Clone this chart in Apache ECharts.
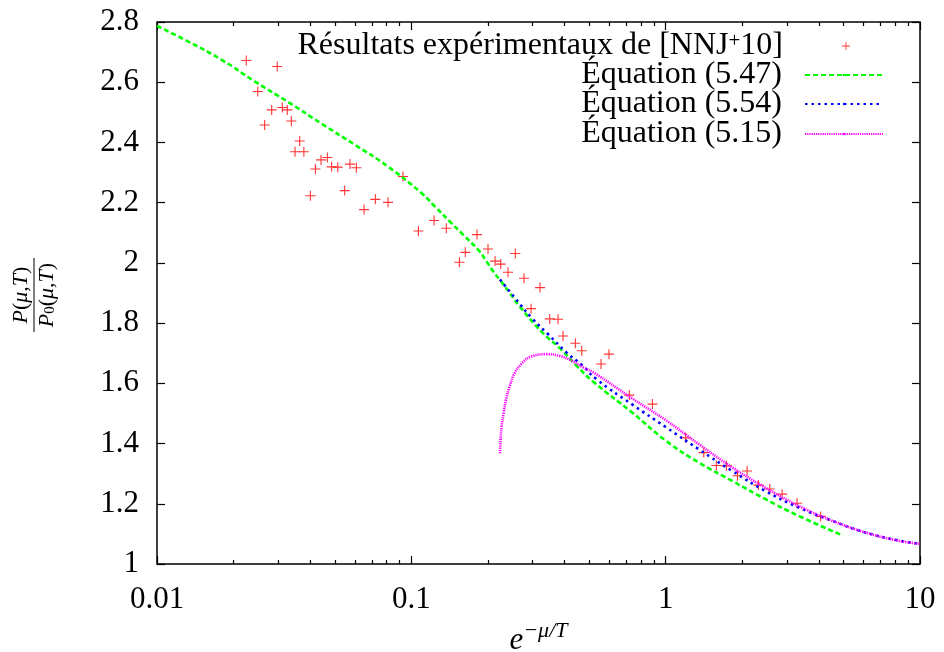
<!DOCTYPE html>
<html>
<head>
<meta charset="utf-8">
<script src="https://cdn.jsdelivr.net/npm/echarts@6/dist/echarts.min.js"></script>
<style>html,body{margin:0;padding:0;background:#fff}#c{width:944px;height:652px}</style>
</head>
<body>
<div id="c"></div>
<script>
// ---- data ----
const xTickLabels = ['0.01', '0.1', '1', '10'];
const xMinorTicks = [0.02,0.03,0.04,0.05,0.06,0.07,0.08,0.09,0.2,0.3,0.4,0.5,0.6,0.7,0.8,0.9,2,3,4,5,6,7,8,9];

const seriesNames = ['Résultats expérimentaux de [NNJ+10]', 'Équation (5.47)', 'Équation (5.54)', 'Équation (5.15)'];

const expX = [0.02244,0.0297,0.0249,0.02825,0.0265,0.0311,0.03253,0.03374,0.0364,0.0349,0.0378,0.0401,0.04195,0.04415,0.04675,0.0486,0.05135,0.0574,0.0608,0.0547,0.0652,0.0722,0.0810,0.0927,0.1066,0.1228,0.1373,0.1812,0.163,0.1545,0.2002,0.2134,0.2246,0.2564,0.2399,0.2774,0.3206,0.2956,0.3500,0.3775,0.395,0.4415,0.4677,0.5986,0.557,0.7195,0.887,1.198,1.412,1.582,1.733,1.915,2.09,2.315,2.565,2.87,3.287,4.07];
const expY = [2.672,2.652,2.569,2.508,2.458,2.516,2.508,2.471,2.405,2.369,2.369,2.223,2.312,2.342,2.350,2.319,2.318,2.328,2.316,2.240,2.177,2.211,2.201,2.287,2.106,2.141,2.115,2.094,2.035,2.002,2.046,2.006,1.996,2.031,1.969,1.949,1.918,1.848,1.814,1.813,1.757,1.733,1.708,1.697,1.664,1.561,1.531,1.419,1.370,1.327,1.326,1.293,1.309,1.262,1.249,1.232,1.202,1.158];

const eq547X = [0.01,0.01328,0.01797,0.02428,0.03283,0.04442,0.06003,0.0812,0.1099,0.1239,0.1419,0.1601,0.1834,0.1979,0.2101,0.2232,0.2443,0.2675,0.3255,0.3842,0.4468,0.5194,0.738,1.0,1.35,1.826,2.46,3.33,4.99];
const eq547Y = [2.787,2.735,2.674,2.602,2.534,2.462,2.392,2.319,2.231,2.187,2.137,2.093,2.043,2.004,1.971,1.943,1.899,1.854,1.771,1.716,1.658,1.605,1.503,1.410,1.337,1.276,1.216,1.160,1.094];

const eq554X = [0.2232,0.2575,0.2996,0.3443,0.408,0.4677,0.5355,0.738,1.0,1.35,1.826,2.46,3.33,4.5,6.09,8.25,10];
const eq554Y = [1.945,1.880,1.814,1.764,1.702,1.661,1.613,1.530,1.455,1.381,1.309,1.243,1.188,1.144,1.105,1.078,1.067];

const eq515X = [0.2232,0.2243,0.2264,0.2305,0.2354,0.2434,0.2545,0.2718,0.2935,0.3406,0.3842,0.427,0.4746,0.5275,0.738,1.0,1.35,1.826,2.46,3.33,4.5,6.09,8.25,10];
const eq515Y = [1.368,1.412,1.456,1.500,1.545,1.589,1.633,1.666,1.688,1.697,1.691,1.675,1.653,1.633,1.550,1.478,1.398,1.321,1.254,1.193,1.144,1.105,1.077,1.067];

// ---- build ----
const zip = (a, b) => a.map((v, i) => [v, b[i]]);
const FONT = 'Liberation Serif';
const plusPath = 'path://M0,4.45H10V5.55H0Z M4.45,0H5.55V10H4.45Z';

const baseX = {type: 'log', logBase: 10, min: 0.01, max: 10, gridIndex: 0, splitLine: {show: false}, axisLine: {show: false}};
const baseY = {type: 'value', min: 1, max: 2.8, interval: 0.2, splitLine: {show: false}, axisLine: {show: false}};

const tickRich = {t: {fontFamily: FONT, fontSize: 31, color: '#000'}};
const legRich = {
  n: {fontFamily: FONT, fontSize: 32, lineHeight: 30, color: '#000'},
  sup: {fontFamily: FONT, fontSize: 21, lineHeight: 30, verticalAlign: 'top', padding: [0, 0, 13, 0], color: '#000'}
};
function legFmt(name) {
  if (name.indexOf('NNJ+10') >= 0) return '{n|Résultats expérimentaux de [NNJ}{sup|+}{n|10]}';
  return '{n|' + name + '}';
}
function mkLegend(name, top, right, w, h, pad, icon) {
  const d = {name: name};
  if (icon) d.icon = icon;
  return {
    show: true, orient: 'horizontal', align: 'right', right: right, top: top,
    itemWidth: w, itemHeight: h, selectedMode: false, padding: 0,
    formatter: legFmt,
    textStyle: {fontFamily: FONT, fontSize: 32, color: '#000', padding: [0, pad, 0, 0], rich: legRich},
    data: [d]
  };
}

const chart = echarts.init(document.getElementById('c'), null, {renderer: 'canvas'});
chart.setOption({
  animation: false,
  backgroundColor: '#fff',
  textStyle: {fontFamily: FONT},
  grid: {left: 157, right: 24, top: 22, bottom: 88, containLabel: false, outerBoundsMode: 'none',
    show: true, borderColor: '#000', borderWidth: 1.5, backgroundColor: 'transparent'},
  legend: [
    mkLegend(seriesNames[0], 30, 94, 8, 8, 54, plusPath),
    mkLegend(seriesNames[1], 59, 60, 78, 3, 18),
    mkLegend(seriesNames[2], 88, 60, 78, 3, 18),
    mkLegend(seriesNames[3], 118, 60, 78, 3, 18)
  ],
  xAxis: [
    Object.assign({}, baseX, {
      position: 'bottom',
      axisTick: {show: true, inside: true, length: 8, lineStyle: {color: '#000', width: 1.2}},
      axisLabel: {show: true, margin: 20, fontFamily: FONT, fontSize: 31, color: '#000', rich: tickRich,
        formatter: v => '{t|' + xTickLabels[Math.round(Math.log10(v)) + 2] + '}'},
      name: '{e|e}{s|−μ/T}', nameLocation: 'middle', nameGap: 50,
      nameTextStyle: {rich: {
        e: {fontFamily: FONT, fontStyle: 'italic', fontSize: 31, color: '#000', lineHeight: 36, verticalAlign: 'bottom'},
        s: {fontFamily: FONT, fontStyle: 'italic', fontSize: 22, color: '#000', lineHeight: 36, verticalAlign: 'top', padding: [0, 0, 14, 0]}
      }}
    }),
    Object.assign({}, baseX, {
      position: 'bottom',
      axisTick: {show: true, inside: true, length: 4, customValues: xMinorTicks, lineStyle: {color: '#000', width: 1.2}},
      axisLabel: {show: false}
    }),
    Object.assign({}, baseX, {
      position: 'top',
      axisTick: {show: true, inside: true, length: 8, lineStyle: {color: '#000', width: 1.2}},
      axisLabel: {show: false}
    }),
    Object.assign({}, baseX, {
      position: 'top',
      axisTick: {show: true, inside: true, length: 4, customValues: xMinorTicks, lineStyle: {color: '#000', width: 1.2}},
      axisLabel: {show: false}
    })
  ],
  yAxis: [
    Object.assign({}, baseY, {
      position: 'left',
      axisTick: {show: true, inside: true, length: 8, lineStyle: {color: '#000', width: 1.2}},
      axisLabel: {show: true, margin: 18, fontFamily: FONT, fontSize: 31, color: '#000', rich: tickRich,
        formatter: v => '{t|' + String(+v.toFixed(1)) + '}'}
    }),
    Object.assign({}, baseY, {
      position: 'right',
      axisTick: {show: true, inside: true, length: 8, lineStyle: {color: '#000', width: 1.2}},
      axisLabel: {show: false}
    })
  ],
  graphic: [{
    type: 'group', x: 34, y: 295, rotation: Math.PI / 2,
    children: [
      {type: 'text', x: 0, y: -13, style: {text: '{i|P}{n|(}{i|μ}{n|,}{i|T}{n|)}', align: 'center', verticalAlign: 'middle',
        rich: {i: {fontFamily: FONT, fontStyle: 'italic', fontSize: 22, fill: '#000'}, n: {fontFamily: FONT, fontSize: 22, fill: '#000'}}}},
      {type: 'line', shape: {x1: -37, y1: 0, x2: 37, y2: 0}, style: {stroke: '#000', lineWidth: 1}},
      {type: 'text', x: 0, y: 13, style: {text: '{i|P}{s|0}{n|(}{i|μ}{n|,}{i|T}{n|)}', align: 'center', verticalAlign: 'middle',
        rich: {i: {fontFamily: FONT, fontStyle: 'italic', fontSize: 22, fill: '#000'}, n: {fontFamily: FONT, fontSize: 22, fill: '#000'},
               s: {fontFamily: FONT, fontSize: 15, fill: '#000', verticalAlign: 'bottom', padding: [6, 0, 0, 0]}}}}
    ]
  }],
  series: [
    {name: seriesNames[0], type: 'scatter', xAxisIndex: 0, yAxisIndex: 0, data: zip(expX, expY),
      symbol: plusPath, symbolSize: 10, itemStyle: {color: '#ff0000'}, z: 2},
    {name: seriesNames[1], type: 'line', xAxisIndex: 0, yAxisIndex: 0, data: zip(eq547X, eq547Y), symbol: 'none', smooth: 0.5,
      lineStyle: {color: '#00ff00', width: 2.6, type: [5, 3]}, itemStyle: {color: '#00ff00'}, z: 3},
    {name: seriesNames[2], type: 'line', xAxisIndex: 0, yAxisIndex: 0, data: zip(eq554X, eq554Y), symbol: 'none', smooth: 0.5,
      lineStyle: {color: '#0000ff', width: 2.6, type: [2.5, 4]}, itemStyle: {color: '#0000ff'}, z: 4},
    {name: seriesNames[3], type: 'line', xAxisIndex: 0, yAxisIndex: 0, data: zip(eq515X, eq515Y), symbol: 'none', smooth: 0.4,
      lineStyle: {color: '#ff00ff', width: 2.6, type: [1.2, 1]}, itemStyle: {color: '#ff00ff'}, z: 5}
  ]
});
</script>
</body>
</html>
